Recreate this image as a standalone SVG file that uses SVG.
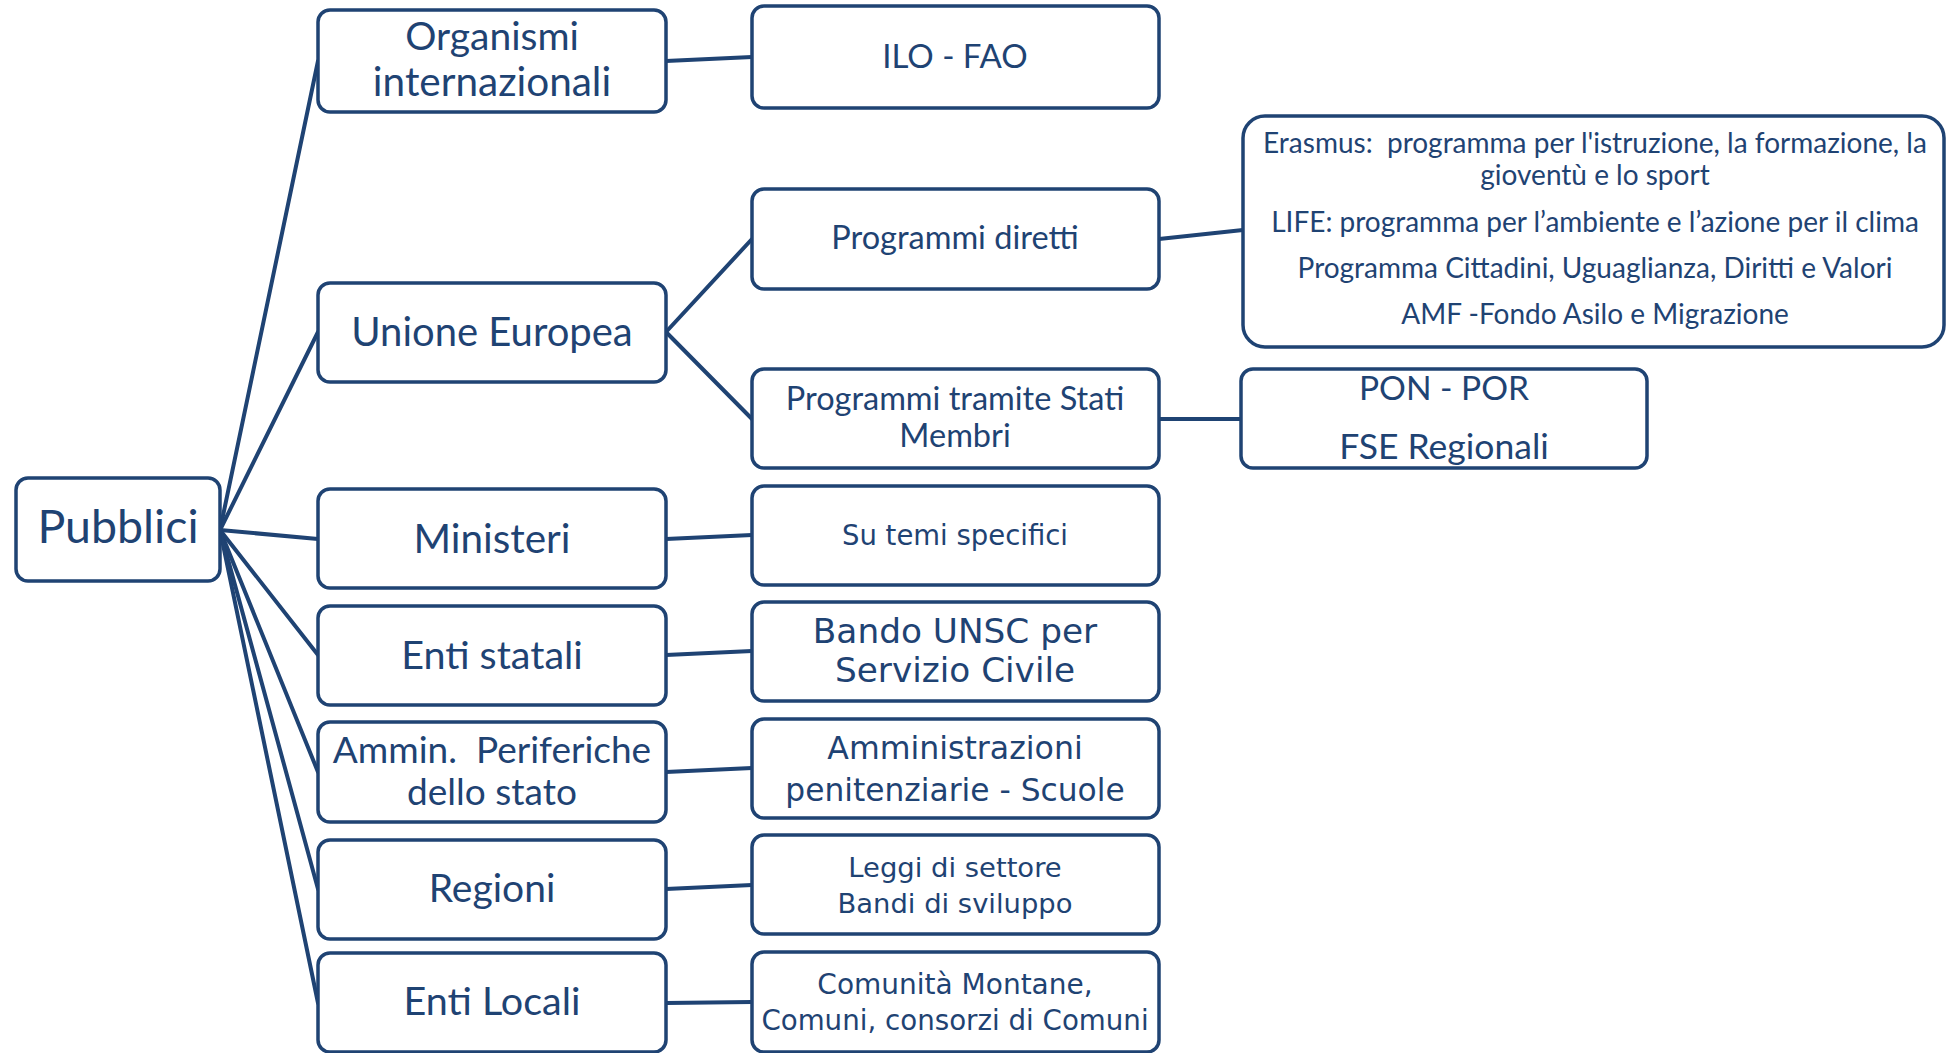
<svg xmlns="http://www.w3.org/2000/svg" width="1946" height="1053" viewBox="0 0 1946 1053">
<style>
.box{fill:#ffffff;stroke:#1f4373;stroke-width:3.5}
.ln{stroke:#1f4373;stroke-width:4;fill:none;stroke-linecap:round}
text{fill:#1f4373;text-anchor:middle}
.c{font-family:Lato,"Open Sans","Liberation Sans",sans-serif}
.v{font-family:"DejaVu Sans","Liberation Sans",sans-serif}
</style>
<rect width="1946" height="1053" fill="#ffffff"/>
<g id="connectors">
<line class="ln" x1="220" y1="530" x2="318" y2="61"/>
<line class="ln" x1="220" y1="530" x2="318" y2="332"/>
<line class="ln" x1="220" y1="530" x2="318" y2="539"/>
<line class="ln" x1="220" y1="530" x2="318" y2="655"/>
<line class="ln" x1="220" y1="530" x2="318" y2="772"/>
<line class="ln" x1="220" y1="530" x2="318" y2="889"/>
<line class="ln" x1="220" y1="530" x2="318" y2="1003"/>
<line class="ln" x1="666" y1="61" x2="752" y2="57"/>
<line class="ln" x1="666" y1="332" x2="752" y2="239"/>
<line class="ln" x1="666" y1="332" x2="752" y2="419"/>
<line class="ln" x1="666" y1="539" x2="752" y2="535"/>
<line class="ln" x1="666" y1="655" x2="752" y2="651"/>
<line class="ln" x1="666" y1="772" x2="752" y2="768"/>
<line class="ln" x1="666" y1="889" x2="752" y2="885"/>
<line class="ln" x1="666" y1="1003" x2="752" y2="1002"/>
<line class="ln" x1="1159" y1="239" x2="1243" y2="230"/>
<line class="ln" x1="1159" y1="419" x2="1241" y2="419"/>
</g>
<g id="pubblici"><rect class="box" x="16" y="478" width="204" height="103" rx="12"/><text class="c" x="118" y="543" font-size="46.5">Pubblici</text></g>
<g id="organismi"><rect class="box" x="318" y="10" width="348" height="102" rx="12"/><text class="c" x="492" y="50" font-size="39">Organismi</text><text class="c" x="492" y="96" font-size="40.5">internazionali</text></g>
<g id="unione"><rect class="box" x="318" y="283" width="348" height="99" rx="12"/><text class="c" x="492" y="346" font-size="40">Unione Europea</text></g>
<g id="ministeri"><rect class="box" x="318" y="489" width="348" height="99" rx="12"/><text class="c" x="492" y="553" font-size="40.5">Ministeri</text></g>
<g id="enti-statali"><rect class="box" x="318" y="606" width="348" height="99" rx="12"/><text class="c" x="492" y="669" font-size="39.5">Enti statali</text></g>
<g id="ammin"><rect class="box" x="318" y="722" width="348" height="100" rx="12"/><text class="c" x="492" y="763" font-size="37" xml:space="preserve">Ammin.  Periferiche</text><text class="c" x="492" y="805" font-size="37">dello stato</text></g>
<g id="regioni"><rect class="box" x="318" y="840" width="348" height="99" rx="12"/><text class="c" x="492" y="902" font-size="39">Regioni</text></g>
<g id="enti-locali"><rect class="box" x="318" y="953" width="348" height="99" rx="12"/><text class="c" x="492" y="1015" font-size="39.5">Enti Locali</text></g>
<g id="ilo"><rect class="box" x="752" y="6" width="407" height="102" rx="12"/><text class="c" x="955" y="68" font-size="33">ILO - FAO</text></g>
<g id="prog-diretti"><rect class="box" x="752" y="189" width="407" height="100" rx="12"/><text class="c" x="955" y="249" font-size="32.5">Programmi diretti</text></g>
<g id="prog-tramite"><rect class="box" x="752" y="369" width="407" height="99" rx="12"/><text class="c" x="955" y="410" font-size="32.5">Programmi tramite Stati</text><text class="c" x="955" y="447" font-size="32.5">Membri</text></g>
<g id="su-temi"><rect class="box" x="752" y="486" width="407" height="99" rx="12"/><text class="v" x="955" y="545" font-size="27.5">Su temi specifici</text></g>
<g id="bando"><rect class="box" x="752" y="602" width="407" height="99" rx="12"/><text class="v" x="955" y="643" font-size="34.3">Bando UNSC per</text><text class="v" x="955" y="682" font-size="34.3">Servizio Civile</text></g>
<g id="amministrazioni"><rect class="box" x="752" y="719" width="407" height="99" rx="12"/><text class="v" x="955" y="759" font-size="31.6">Amministrazioni</text><text class="v" x="955" y="801" font-size="31.3">penitenziarie - Scuole</text></g>
<g id="leggi"><rect class="box" x="752" y="835" width="407" height="99" rx="12"/><text class="v" x="955" y="877" font-size="27.4">Leggi di settore</text><text class="v" x="955" y="913" font-size="27.4">Bandi di sviluppo</text></g>
<g id="comunita"><rect class="box" x="752" y="952" width="407" height="100" rx="12"/><text class="v" x="955" y="994" font-size="28">Comunità Montane,</text><text class="v" x="955" y="1030" font-size="27.7">Comuni, consorzi di Comuni</text></g>
<g id="erasmus"><rect class="box" x="1243" y="116" width="701" height="231" rx="22"/>
<text class="c" x="1595" y="153" font-size="28" xml:space="preserve">Erasmus:  programma per l'istruzione, la formazione, la</text>
<text class="c" x="1595" y="185" font-size="28">gioventù e lo sport</text>
<text class="c" x="1595" y="232" font-size="28">LIFE: programma per l’ambiente e l’azione per il clima</text>
<text class="c" x="1595" y="278" font-size="28">Programma Cittadini, Uguaglianza, Diritti e Valori</text>
<text class="c" x="1595" y="324" font-size="28">AMF -Fondo Asilo e Migrazione</text></g>
<g id="pon"><rect class="box" x="1241" y="369" width="406" height="99" rx="12"/><text class="c" x="1444" y="400" font-size="33.5">PON - POR</text><text class="c" x="1444" y="459" font-size="35.5">FSE Regionali</text></g>
</svg>
